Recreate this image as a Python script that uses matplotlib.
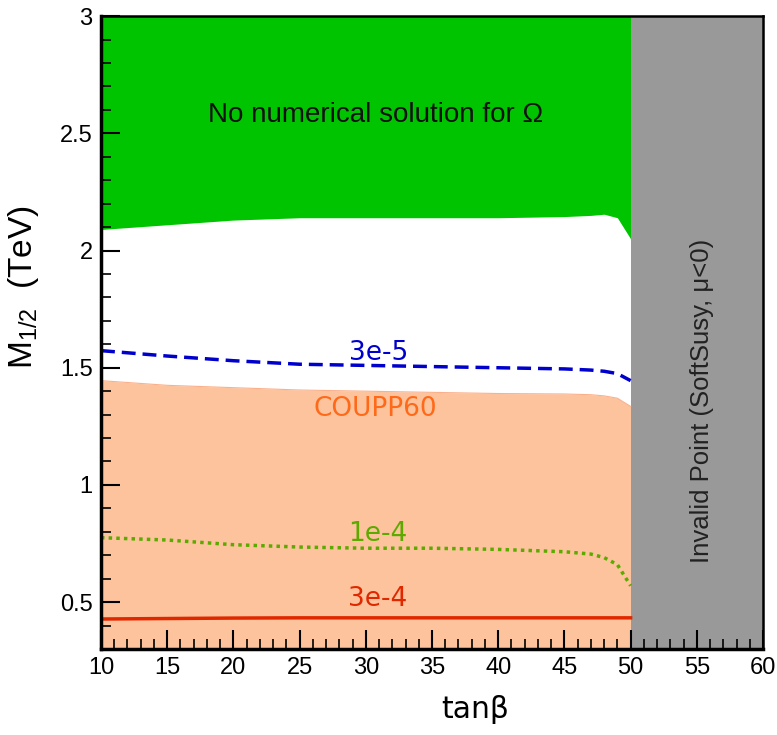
import matplotlib
matplotlib.use("Agg")
import matplotlib.pyplot as plt
from matplotlib.ticker import MultipleLocator

plt.rcParams["mathtext.default"] = "regular"

# tan(beta) grid for the boundaries
tanb = [10, 15, 20, 25, 30, 35, 40, 45, 47, 48, 49, 50]

# lower edge of the "no numerical solution" region (TeV)
no_sol_edge = [2.09, 2.11, 2.13, 2.14, 2.14, 2.14, 2.14, 2.145, 2.15, 2.155, 2.14, 2.05]

# COUPP60 excluded region, upper edge
coupp60 = [1.445, 1.425, 1.415, 1.405, 1.40, 1.395, 1.39, 1.388, 1.385, 1.38, 1.37, 1.335]

# contours
c_3e5 = [1.573, 1.55, 1.53, 1.515, 1.51, 1.505, 1.50, 1.495, 1.49, 1.485, 1.475, 1.445]
c_1e4 = [0.775, 0.765, 0.745, 0.735, 0.730, 0.730, 0.725, 0.715, 0.705, 0.69, 0.66, 0.57]
c_3e4 = [0.428, 0.430, 0.432, 0.433, 0.433, 0.433, 0.433, 0.433, 0.433, 0.433, 0.433, 0.433]

invalid_range = (50, 60)
x_range = (10, 60)
y_range = (0.3, 3.0)

sans = "Liberation Sans"

fig = plt.figure(figsize=(7.77, 7.35), dpi=100)
ax = fig.add_axes([0.130, 0.117, 0.852, 0.861])

# filled regions
ax.fill_between(tanb, no_sol_edge, y_range[1], color="#00C400", lw=0)
ax.fill_between(tanb, y_range[0], coupp60, color="#FDC39C", lw=0)
ax.plot(tanb, coupp60, color="#FBB08A", lw=0.8)
ax.axvspan(invalid_range[0], invalid_range[1], color="#999999", lw=0)

# contour lines
ax.plot(tanb, c_3e5, color="#0000CC", lw=2.5, ls=(0, (4, 2)))
ax.plot(tanb, c_1e4, color="#5CAA00", lw=2.5, ls=(0, (1, 1.2)))
ax.plot(tanb, c_3e4, color="#E02800", lw=2.5)

# labels
ax.text(30.75, 2.577, "No numerical solution for Ω", fontsize=20, family=sans,
        ha="center", va="center", color="#111111")
ax.text(55.4, 1.36, "Invalid Point (SoftSusy, μ<0)", fontsize=18.5, family=sans,
        ha="center", va="center", rotation=90, color="#222222")
ax.text(31.0, 1.565, "3e-5", fontsize=19, ha="center", va="center", color="#0000CC")
ax.text(30.7, 1.325, "COUPP60", fontsize=19, ha="center", va="center", color="#FF6A1A")
ax.text(30.9, 0.79, "1e-4", fontsize=19, ha="center", va="center", color="#5CAA00")
ax.text(30.9, 0.513, "3e-4", fontsize=19, ha="center", va="center", color="#E02800")

# axes formatting
ax.set_xlim(*x_range)
ax.set_ylim(*y_range)
ax.xaxis.set_major_locator(MultipleLocator(5))
ax.xaxis.set_minor_locator(MultipleLocator(1))
ax.yaxis.set_minor_locator(MultipleLocator(0.1))
ax.set_yticks([0.5, 1, 1.5, 2, 2.5, 3])
ax.set_yticklabels(["0.5", "1", "1.5", "2", "2.5", "3"])
ax.tick_params(which="major", direction="in", length=14, width=1.5, labelsize=17, pad=6)
ax.tick_params(which="minor", direction="in", length=7, width=1.2)
ax.tick_params(top=False, right=False, which="both")
for lbl in ax.get_xticklabels() + ax.get_yticklabels():
    lbl.set_family(sans)

ax.spines["left"].set_linewidth(2.5)
ax.spines["bottom"].set_linewidth(2.5)
ax.spines["top"].set_linewidth(1.8)
ax.spines["right"].set_linewidth(1.8)

ax.set_xlabel("tanβ", fontsize=21.5)
ax.xaxis.set_label_coords(0.565, -0.073)
ax.set_ylabel(r"M$_{1/2}$  (TeV)", fontsize=24, family=sans)
ax.yaxis.set_label_coords(-0.09, 0.572)

fig.savefig("out.png", dpi=100)
